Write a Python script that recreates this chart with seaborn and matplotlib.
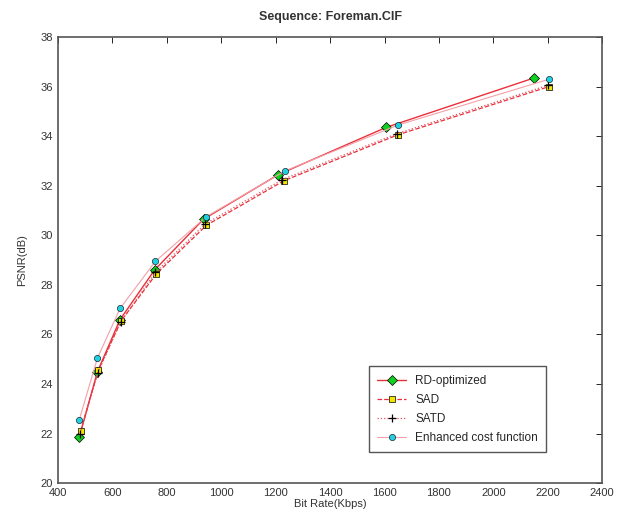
import matplotlib
matplotlib.use("Agg")
import matplotlib.pyplot as plt
import pandas as pd
import seaborn as sns

# bit rate (Kbps) and PSNR (dB)
RD_RATE = [478, 545, 628, 755, 935, 1210, 1605, 2150]
RD_PSNR = [21.85, 24.5, 26.6, 28.6, 30.65, 32.45, 34.35, 36.35]

SAD_RATE = [483, 548, 632, 762, 945, 1230, 1648, 2205]
SAD_PSNR = [22.1, 24.55, 26.55, 28.45, 30.4, 32.2, 34.05, 36.0]

SATD_RATE = [481, 546, 630, 758, 940, 1225, 1645, 2200]
SATD_PSNR = [22.0, 24.45, 26.5, 28.5, 30.45, 32.25, 34.1, 36.05]

ENH_RATE = [478, 545, 628, 758, 945, 1235, 1650, 2205]
ENH_PSNR = [22.55, 25.05, 27.05, 28.95, 30.75, 32.6, 34.45, 36.3]

X_TICKS = list(range(400, 2401, 200))
Y_TICKS = list(range(20, 39, 2))


def build_frame() -> pd.DataFrame:
    parts = []
    for name, rate, psnr in [
        ("RD-optimized", RD_RATE, RD_PSNR),
        ("SAD", SAD_RATE, SAD_PSNR),
        ("SATD", SATD_RATE, SATD_PSNR),
        ("Enhanced cost function", ENH_RATE, ENH_PSNR),
    ]:
        parts.append(pd.DataFrame({"rate": rate, "psnr": psnr, "method": name}))
    return pd.concat(parts, ignore_index=True)


def main() -> None:
    sns.set_style("white")
    plt.rcParams["font.family"] = ["Liberation Sans", "DejaVu Sans"]
    plt.rcParams["xtick.direction"] = "in"
    plt.rcParams["ytick.direction"] = "in"

    df = build_frame()

    fig = plt.figure(figsize=(6.17, 5.14), dpi=100)
    ax = fig.add_axes([0.094, 0.060, 0.882, 0.868])

    styles = {
        "RD-optimized": dict(color="#e8303a", linestyle="-", linewidth=1.0, marker="D",
                             markersize=5, markerfacecolor="#10d020", markeredgecolor="black",
                             markeredgewidth=0.5),
        "SAD": dict(color="#e8303a", linestyle="--", linewidth=0.9, marker="s",
                    markersize=5, markerfacecolor="#f2e600", markeredgecolor="black",
                    markeredgewidth=0.5),
        "SATD": dict(color="#e85060", linestyle=":", linewidth=0.9, marker="+",
                     markersize=5.5, markeredgecolor="black", markeredgewidth=0.9),
        "Enhanced cost function": dict(color="#f4a0a8", linestyle="-", linewidth=0.8, marker="o",
                                       markersize=4.5, markerfacecolor="#20d0e0",
                                       markeredgecolor="black", markeredgewidth=0.4),
    }

    for name, kw in styles.items():
        sub = df[df["method"] == name]
        sns.lineplot(data=sub, x="rate", y="psnr", ax=ax, sort=False, label=name, **kw)

    ax.set_xlim(400, 2400)
    ax.set_ylim(20, 38)
    ax.set_xticks(X_TICKS)
    ax.set_yticks(Y_TICKS)
    ax.tick_params(axis="both", labelsize=8, length=4, width=0.6, top=True, right=True,
                   colors="black", labelcolor="#333333")
    for spine in ax.spines.values():
        spine.set_visible(True)
        spine.set_color("#555555")
        spine.set_linewidth(1.2)

    ax.set_title("Sequence: Foreman.CIF", fontsize=9, fontweight="bold", color="#333333", pad=12)
    ax.set_xlabel("Bit Rate(Kbps)", fontsize=8, color="#333333", labelpad=1)
    ax.set_ylabel("PSNR(dB)", fontsize=8, color="#333333", labelpad=10)

    leg = ax.legend(loc="lower right", bbox_to_anchor=(0.908, 0.056), fontsize=8.5,
                    frameon=True, fancybox=False, edgecolor="#555555", framealpha=1,
                    handlelength=2.4, borderpad=0.7, labelspacing=0.6)
    leg.get_frame().set_linewidth(1.0)

    fig.savefig("out.png", dpi=100)
    plt.close(fig)


if __name__ == "__main__":
    main()
